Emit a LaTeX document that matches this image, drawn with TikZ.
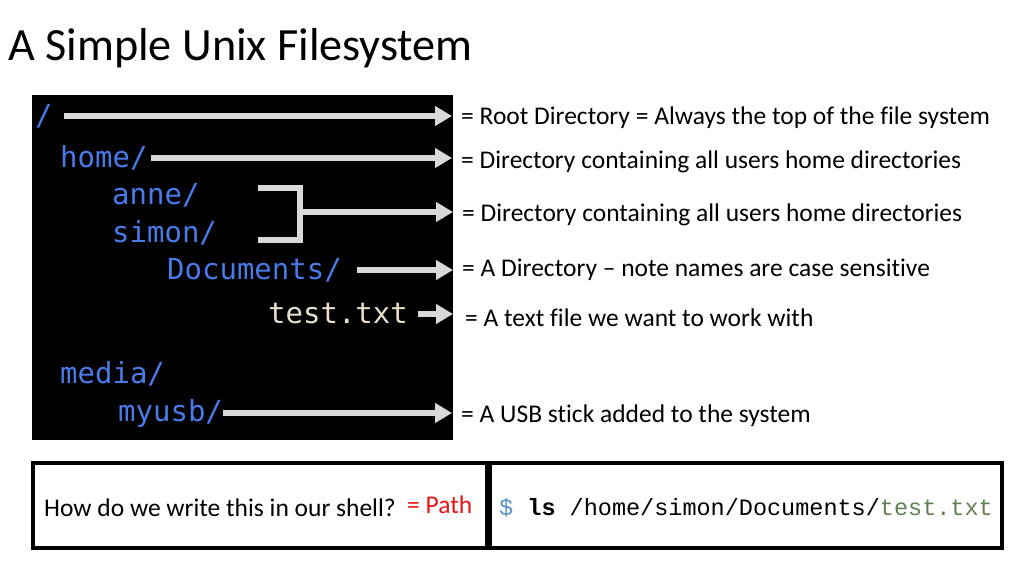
\documentclass[tikz,border=0pt]{standalone}
\usepackage{fontspec}
\setmainfont{Carlito}[Ligatures=NoCommon]
\setmonofont{Liberation Mono}
\newfontfamily\termfont{DejaVu Sans Mono}
\usepackage{tikz}
\usetikzlibrary{arrows.meta,positioning,calc}
\definecolor{termblue}{RGB}{72,122,232}
\definecolor{termtext}{RGB}{232,222,204}
\definecolor{arrowgray}{RGB}{217,217,217}
\definecolor{promptblue}{RGB}{86,146,204}
\definecolor{filegreen}{RGB}{96,128,82}
\definecolor{pathred}{RGB}{230,20,20}
\tikzset{
	dirname/.style={anchor=west, inner sep=0pt, text=termblue, font=\termfont\fontsize{29}{34}\selectfont},
	note/.style={anchor=west, inner sep=0pt, font=\fontsize{25.5}{30}\selectfont},
	pointer/.style={draw=arrowgray, line width=6pt, -{Triangle[length=17pt,width=19pt]}},
	cellbox/.style={draw=black, line width=4pt}
}

\begin{document}
\begin{tikzpicture}[x=1pt,y=-1pt]
		\useasboundingbox (0,0) rectangle (1024,576);
		\node [anchor=west, inner sep=0pt, font=\fontsize{46.2}{55}\selectfont] (title) at (8,48) {A Simple Unix Filesystem};
		\fill [black] (32,95) rectangle (453,440);
		\node [dirname] (root) at (35,116) {/};
		\node [dirname] (home) at (60,158) {home/};
		\node [dirname] (anne) at (112,195) {anne/};
		\node [dirname] (simon) at (112,233) {simon/};
		\node [dirname] (docs) at (167,270) {Documents/};
		\node [dirname, text=termtext] (testfile) at (268,314) {test.txt};
		\node [dirname] (media) at (60,374) {media/};
		\node [dirname] (myusb) at (118,413) {myusb/};
		\node [note] (rootnote) at (461,118) {= Root Directory = Always the top of the file system};
		\node [note] (homenote) at (461,162) {= Directory containing all users home directories};
		\node [note] (usernote) at (462,215) {= Directory containing all users home directories};
		\node [note] (docsnote) at (462,270) {= A Directory -- note names are case sensitive};
		\node [note] (filenote) at (465,318) {= A text file we want to work with};
		\node [note] (usbnote) at (461,416) {= A USB stick added to the system};
		\draw [pointer, shorten <=11pt, shorten >=9pt] (root.east) -- (root.east -| rootnote.west);
		\draw [pointer, shorten <=3pt, shorten >=9pt] (home.east) -- (home.east -| homenote.west);
		\draw [draw=arrowgray, line width=6pt] (258,188) -- (300,188) -- (300,240) -- (258,240);
		\coordinate (fork) at (300,212);
		\draw [pointer, shorten >=9pt] (fork) -- (fork -| usernote.west);
		\draw [pointer, shorten <=15pt, shorten >=9pt] (docs.east) -- (docs.east -| docsnote.west);
		\draw [pointer, shorten <=10pt, shorten >=12pt] (testfile.east) -- (testfile.east -| filenote.west);
		\draw [pointer, shorten >=9pt] (myusb.east) -- (myusb.east -| usbnote.west);
		\draw [cellbox] (33,463) rectangle (487,548);
		\draw [cellbox] (490,463) rectangle (1002,548);
		\node [note] (question) at (44,508) {How do we write this in our shell?};
		\node [note, text=pathred] (pathword) at (407,505) {= Path};
		\node [anchor=west, inner sep=0pt, font=\ttfamily\fontsize{23.5}{28}\selectfont] (command) at (499,508) {\textcolor{promptblue}{\$} \textbf{ls} /home/simon/Documents/\textcolor{filegreen}{test.txt}};
\end{tikzpicture}
\end{document}
